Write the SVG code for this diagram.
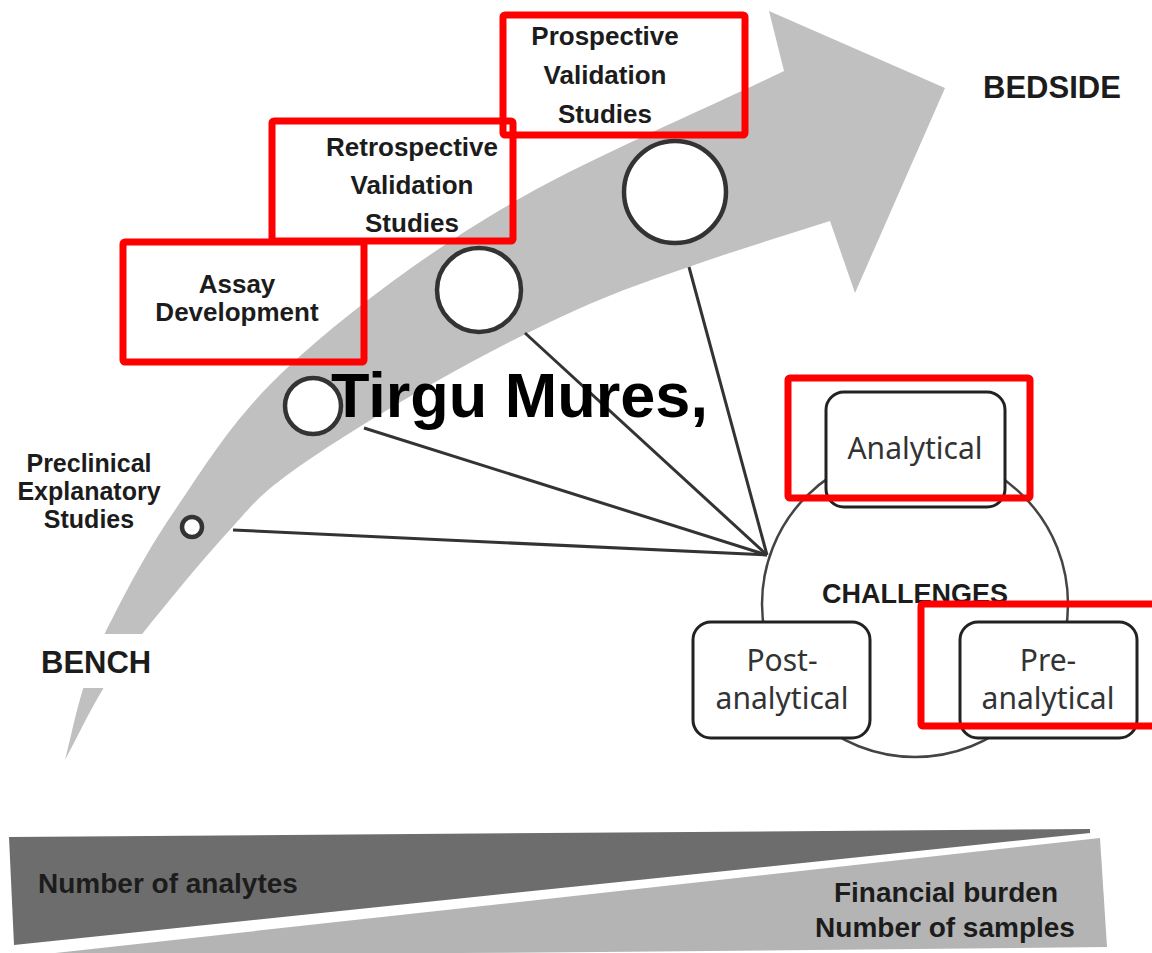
<svg xmlns="http://www.w3.org/2000/svg" width="1152" height="953" viewBox="0 0 1152 953">
  <style>
    .lbl { font-family: "Liberation Sans", Arial, sans-serif; font-weight: bold; fill: #1c1c1c; }
    .stage { font-size: 26px; text-anchor: middle; }
    .small { font-size: 25px; }
    .end { font-size: 31px; }
    .box { fill: #ffffff; stroke: #222222; stroke-width: 3; }
    .boxtxt { font-family: "Noto Sans", "Liberation Sans", sans-serif; font-size: 30px; fill: #333333; text-anchor: middle; }
    .dot { fill: #ffffff; stroke: #333333; stroke-width: 4.5; }
    .spoke { stroke: #333333; stroke-width: 3; fill: none; }
    .mark { fill: none; stroke: #ff0000; stroke-width: 7; }
  </style>

  <rect width="1152" height="953" fill="#ffffff"/>

  <!-- curved progress arrow from bench to bedside -->
  <g id="progress-arrow">
    <path fill="#c0c0c0" d="M784,71
      C689,117 583,160.5 500,210
      C417,259.5 341.5,317.5 287,368
      C232.5,418.5 203.3,468.8 173,513
      C142.7,557.2 120,603.7 105,633
      C90,662.3 89.7,667.8 83,689
      C76.3,710.2 71,736.3 65,760
      C77.7,736.3 90,710.2 103,689
      C116,667.8 122.3,659 143,633
      C163.7,607 202.5,559.7 227,533
      C251.5,506.3 256.2,497.7 290,473
      C323.8,448.3 382.3,412.2 430,385
      C477.7,357.8 531,330.3 576,310
      C621,289.7 657.7,277.8 700,263
      C742.3,248.2 786.7,235 830,221
      L855,293 L945,88 L769,11 Z"/>
    <!-- gap in the tail behind the BENCH label -->
    <rect x="50" y="634" width="120" height="54" fill="#ffffff"/>
  </g>

  <!-- spokes from each stage to the challenges hub -->
  <g id="connectors">
    <line class="spoke" x1="233" y1="530" x2="767" y2="555"/>
    <line class="spoke" x1="364" y1="428" x2="767" y2="555"/>
    <line class="spoke" x1="525" y1="333" x2="767" y2="555"/>
    <line class="spoke" x1="689" y1="267" x2="767" y2="555"/>
  </g>

  <g id="stage-preclinical">
    <circle class="dot" cx="192" cy="527" r="10"/>
    <text class="lbl stage small" x="89" y="472">Preclinical</text>
    <text class="lbl stage small" x="89" y="500">Explanatory</text>
    <text class="lbl stage small" x="89" y="528">Studies</text>
  </g>

  <g id="stage-assay">
    <circle class="dot" cx="313" cy="406" r="28"/>
    <text class="lbl stage" x="237" y="293">Assay</text>
    <text class="lbl stage" x="237" y="321">Development</text>
  </g>

  <g id="stage-retrospective">
    <circle class="dot" cx="479" cy="290" r="42"/>
    <text class="lbl stage" x="412" y="156">Retrospective</text>
    <text class="lbl stage" x="412" y="194">Validation</text>
    <text class="lbl stage" x="412" y="232">Studies</text>
  </g>

  <g id="stage-prospective">
    <circle class="dot" cx="675" cy="192" r="51"/>
    <text class="lbl stage" x="605" y="45">Prospective</text>
    <text class="lbl stage" x="605" y="84">Validation</text>
    <text class="lbl stage" x="605" y="123">Studies</text>
  </g>

  <g id="bench">
    <text class="lbl end" x="41" y="673">BENCH</text>
  </g>

  <g id="bedside">
    <text class="lbl end" x="983" y="98">BEDSIDE</text>
  </g>

  <g id="challenges">
    <circle cx="915" cy="604" r="153" fill="#ffffff" stroke="#444444" stroke-width="2.5"/>
    <text class="lbl" x="915" y="603" font-size="27" text-anchor="middle">CHALLENGES</text>
  </g>

  <g id="analytical">
    <rect class="box" x="826" y="392" width="179" height="115" rx="18"/>
    <text class="boxtxt" x="915" y="459">Analytical</text>
  </g>

  <g id="post-analytical">
    <rect class="box" x="693" y="622" width="177" height="116" rx="18"/>
    <text class="boxtxt" x="782" y="671">Post-</text>
    <text class="boxtxt" x="782" y="709">analytical</text>
  </g>

  <g id="pre-analytical">
    <rect class="box" x="960" y="622" width="177" height="116" rx="18"/>
    <text class="boxtxt" x="1048" y="671">Pre-</text>
    <text class="boxtxt" x="1048" y="709">analytical</text>
  </g>

  <!-- trade-off wedges along the bottom -->
  <g id="analytes-wedge">
    <polygon fill="#6d6d6d" points="9,837 1090,829 1090,833 14,945"/>
    <text class="lbl" x="38" y="893" font-size="28">Number of analytes</text>
  </g>

  <g id="samples-wedge">
    <polygon fill="#b4b4b4" points="28,956 1100,838 1107,947 600,952"/>
    <text class="lbl" x="946" y="902" font-size="28" text-anchor="middle">Financial burden</text>
    <text class="lbl" x="945" y="937" font-size="28" text-anchor="middle">Number of samples</text>
  </g>

  <!-- highlight frames -->
  <g id="highlights">
    <rect class="mark" x="123" y="242" width="241" height="120" rx="2"/>
    <rect class="mark" x="272" y="121" width="241" height="120" rx="2"/>
    <rect class="mark" x="503" y="15" width="242" height="120" rx="2"/>
    <rect class="mark" x="788" y="378" width="242" height="120" rx="2"/>
    <rect class="mark" x="921" y="604" width="245" height="122" rx="2"/>
  </g>

  <g id="place-label">
    <text x="331" y="417" font-family="Liberation Sans, Arial, sans-serif" font-weight="bold" font-size="63" fill="#000000">Tirgu Mures,</text>
  </g>
</svg>
